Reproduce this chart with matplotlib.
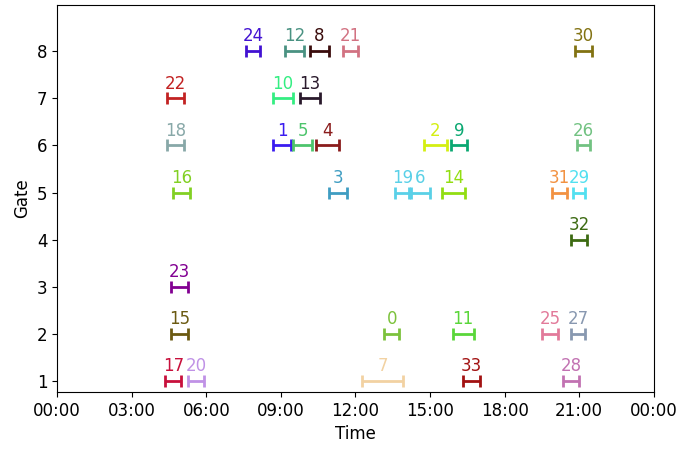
import matplotlib
matplotlib.use("Agg")
import matplotlib.pyplot as plt
from matplotlib.ticker import FuncFormatter, MultipleLocator

flights = list(range(34))
gates = [2, 6, 6, 5, 6, 6, 5, 1, 8, 6, 7, 2, 8, 7, 5, 2, 5, 1, 6, 5, 1, 8, 7, 3, 8, 2, 6, 2, 1, 5, 8, 5, 4, 1]
starts = ["13:10", "08:40", "14:45", "10:55", "10:25", "09:30", "14:10", "12:15", "10:10", "15:50",
          "08:40", "15:55", "09:10", "09:45", "15:30", "04:35", "04:40", "04:20", "04:25", "13:35",
          "05:15", "11:30", "04:25", "04:35", "07:35", "19:30", "20:55", "20:40", "20:20", "20:45",
          "20:50", "19:55", "20:40", "16:20"]
ends = ["13:45", "09:25", "15:40", "11:40", "11:20", "10:15", "15:00", "13:55", "10:55", "16:30",
        "09:30", "16:45", "09:55", "10:35", "16:25", "05:15", "05:20", "05:00", "05:05", "14:15",
        "05:55", "12:05", "05:05", "05:15", "08:10", "20:10", "21:25", "21:15", "21:00", "21:15",
        "21:30", "20:30", "21:20", "17:00"]
colors = ["#7cc23c", "#3a1cf0", "#d4ef12", "#3f9dc2", "#8a1c1c", "#4dc46c", "#5ad0e6", "#f2d2a2",
          "#3a0c0c", "#0ba872", "#34ee82", "#5ad63a", "#4a9282", "#2a1a2c", "#92de12", "#6b5a12",
          "#82d024", "#c8103c", "#88a8a8", "#5ad0e8", "#c092e6", "#d27282", "#c22222", "#820092",
          "#4212d2", "#e27a9a", "#72c282", "#8898b0", "#c272b2", "#52e0f0", "#827212", "#f29242",
          "#3c6a12", "#a21212"]

def to_h(s):
    h, m = s.split(":")
    return int(h) + int(m) / 60.0

fig, ax = plt.subplots(figsize=(6.81, 4.5), dpi=100)
fig.subplots_adjust(left=0.084, right=0.960, top=0.989, bottom=0.129)

for f, g, s, e, c in zip(flights, gates, starts, ends, colors):
    a, b = to_h(s), to_h(e)
    mid = (a + b) / 2
    ax.errorbar(mid, g, xerr=[[mid - a], [b - mid]], fmt='none', ecolor=c,
                elinewidth=2, capsize=4, capthick=2)
    ax.text(mid, g + 0.12, str(f), color=c, ha='center', va='bottom', fontsize=12)

ax.set_xlim(0, 24)
ax.set_ylim(0.77, 8.98)
ax.xaxis.set_major_locator(MultipleLocator(3))
ax.xaxis.set_major_formatter(FuncFormatter(lambda v, p: "%02d:00" % (int(round(v)) % 24)))
ax.set_yticks(range(1, 9))
ax.tick_params(labelsize=12)
ax.set_xlabel("Time", fontsize=12)
ax.set_ylabel("Gate", fontsize=12)

fig.savefig("out.png", dpi=100)
